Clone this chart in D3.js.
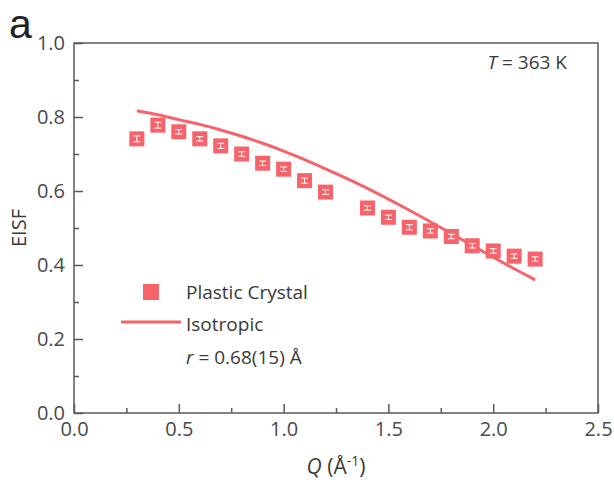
<!DOCTYPE html>
<html lang="en">
<head>
    <meta charset="UTF-8">
    <title>EISF vs Q</title>
    <script src="https://cdnjs.cloudflare.com/ajax/libs/d3/7.8.5/d3.min.js"></script>
    <style>
        body { margin: 0; background: #fff; }
        svg text { font-family: "Open Sans", "Noto Sans", sans-serif; fill: #3a3a3a; }
    </style>
</head>
<body>
    <svg id="chart" width="614" height="486"></svg>

    <script>
        // measured points (Plastic Crystal)
        const qPoints = [0.3, 0.4, 0.5, 0.6, 0.7, 0.8, 0.9, 1.0, 1.1, 1.2, 1.4, 1.5, 1.6, 1.7, 1.8, 1.9, 2.0, 2.1, 2.2];
        const eisfPoints = [0.741, 0.778, 0.760, 0.741, 0.722, 0.700, 0.675, 0.659, 0.628, 0.597, 0.554, 0.529, 0.502, 0.492, 0.477, 0.452, 0.438, 0.424, 0.416];
        const eisfErrors = [0.008, 0.008, 0.006, 0.006, 0.007, 0.006, 0.006, 0.006, 0.007, 0.006, 0.006, 0.006, 0.007, 0.006, 0.006, 0.006, 0.006, 0.006, 0.006];

        // isotropic model curve
        const qModel = [0.3, 0.4, 0.5, 0.6, 0.7, 0.8, 0.9, 1.0, 1.1, 1.2, 1.3, 1.4, 1.5, 1.6, 1.7, 1.8, 1.9, 2.0, 2.1, 2.2];
        const eisfModel = [0.817, 0.806, 0.793, 0.780, 0.765, 0.748, 0.729, 0.708, 0.685, 0.660, 0.634, 0.607, 0.578, 0.548, 0.517, 0.485, 0.453, 0.421, 0.390, 0.360];

        const xMajor = [0, 0.5, 1.0, 1.5, 2.0, 2.5];
        const xMinor = [0.25, 0.75, 1.25, 1.75, 2.25];
        const yMajor = [0, 0.2, 0.4, 0.6, 0.8, 1.0];
        const yMinor = [0.1, 0.3, 0.5, 0.7, 0.9];

        const red = '#f7636a';
        const axisColor = '#5a5a5a';

        const svg = d3.select('#chart');
        const plotLeft = 74, plotRight = 598, plotTop = 43, plotBottom = 413;

        const x = d3.scaleLinear().domain([0, 2.5]).range([plotLeft, plotRight]);
        const y = d3.scaleLinear().domain([0, 1]).range([plotBottom, plotTop]);

        // frame
        svg.append('rect')
            .attr('x', plotLeft).attr('y', plotTop)
            .attr('width', plotRight - plotLeft).attr('height', plotBottom - plotTop)
            .attr('fill', 'none')
            .attr('stroke', axisColor)
            .attr('stroke-width', 1.5);

        // x axis
        const xAxis = svg.append('g').attr('transform', `translate(0,${plotBottom})`);
        xAxis.call(d3.axisBottom(x).tickValues(xMajor).tickSize(-9).tickPadding(9).tickFormat(d3.format('.1f')));
        xAxis.append('g').call(d3.axisBottom(x).tickValues(xMinor).tickSize(-5).tickFormat(''));
        xAxis.selectAll('.domain').remove();

        // y axis
        const yAxis = svg.append('g').attr('transform', `translate(${plotLeft},0)`);
        yAxis.call(d3.axisLeft(y).tickValues(yMajor).tickSize(-9).tickPadding(9).tickFormat(d3.format('.1f')));
        yAxis.append('g').call(d3.axisLeft(y).tickValues(yMinor).tickSize(-5).tickFormat(''));
        yAxis.selectAll('.domain').remove();

        svg.selectAll('.tick line').attr('stroke', axisColor).attr('stroke-width', 1.5);
        svg.selectAll('.tick text')
            .style('font-size', '20px')
            .style('fill', '#4a4a4a');

        // isotropic curve
        const line = d3.line()
            .x((d, i) => x(qModel[i]))
            .y(d => y(d))
            .curve(d3.curveCatmullRom);

        svg.append('path')
            .datum(eisfModel)
            .attr('d', line)
            .attr('fill', 'none')
            .attr('stroke', red)
            .attr('stroke-width', 3);

        // squares with white error bars inside
        const s = 15;
        const pts = svg.append('g').selectAll('g').data(eisfPoints).enter().append('g')
            .attr('transform', (d, i) => `translate(${x(qPoints[i])},${y(d)})`);

        pts.append('rect')
            .attr('x', -s / 2).attr('y', -s / 2)
            .attr('width', s).attr('height', s)
            .attr('fill', red);

        pts.append('line')
            .attr('x1', 0).attr('x2', 0)
            .attr('y1', (d, i) => y(d + eisfErrors[i]) - y(d))
            .attr('y2', (d, i) => y(d - eisfErrors[i]) - y(d))
            .attr('stroke', '#fff').attr('stroke-width', 1);
        pts.append('line')
            .attr('x1', -3.5).attr('x2', 3.5)
            .attr('y1', (d, i) => y(d + eisfErrors[i]) - y(d))
            .attr('y2', (d, i) => y(d + eisfErrors[i]) - y(d))
            .attr('stroke', '#fff').attr('stroke-width', 1);
        pts.append('line')
            .attr('x1', -3.5).attr('x2', 3.5)
            .attr('y1', (d, i) => y(d - eisfErrors[i]) - y(d))
            .attr('y2', (d, i) => y(d - eisfErrors[i]) - y(d))
            .attr('stroke', '#fff').attr('stroke-width', 1);

        // axis titles
        svg.append('text')
            .attr('transform', 'translate(26,228) rotate(-90)')
            .attr('text-anchor', 'middle')
            .style('font-size', '20px')
            .text('EISF');

        const xt = svg.append('text')
            .attr('x', 336).attr('y', 474)
            .attr('text-anchor', 'middle')
            .style('font-size', '21px');
        xt.append('tspan').style('font-style', 'italic').text('Q');
        xt.append('tspan').text(' (Å');
        xt.append('tspan').attr('dy', -8).style('font-size', '14px').text('-1');
        xt.append('tspan').attr('dy', 8).text(')');

        // panel label
        svg.append('text')
            .attr('x', 9).attr('y', 37.5)
            .style('font-family', '"Liberation Sans", sans-serif')
            .style('font-size', '41px')
            .style('fill', '#222')
            .text('a');

        // temperature
        const tt = svg.append('text')
            .attr('x', 567).attr('y', 69)
            .attr('text-anchor', 'end')
            .style('font-size', '19px');
        tt.append('tspan').style('font-style', 'italic').text('T');
        tt.append('tspan').text(' = 363 K');

        // legend
        const lg = svg.append('g');
        lg.append('rect')
            .attr('x', 143).attr('y', 284)
            .attr('width', 16).attr('height', 16)
            .attr('fill', red);
        lg.append('text').attr('x', 186).attr('y', 299).style('font-size', '19px').text('Plastic Crystal');
        lg.append('line')
            .attr('x1', 121).attr('x2', 181)
            .attr('y1', 322).attr('y2', 322)
            .attr('stroke', red).attr('stroke-width', 3);
        lg.append('text').attr('x', 186).attr('y', 331).style('font-size', '19px').text('Isotropic');
        const rt = lg.append('text').attr('x', 186).attr('y', 364).style('font-size', '19px');
        rt.append('tspan').style('font-style', 'italic').text('r');
        rt.append('tspan').text(' = 0.68(15) Å');
    </script>
</body>
</html>
